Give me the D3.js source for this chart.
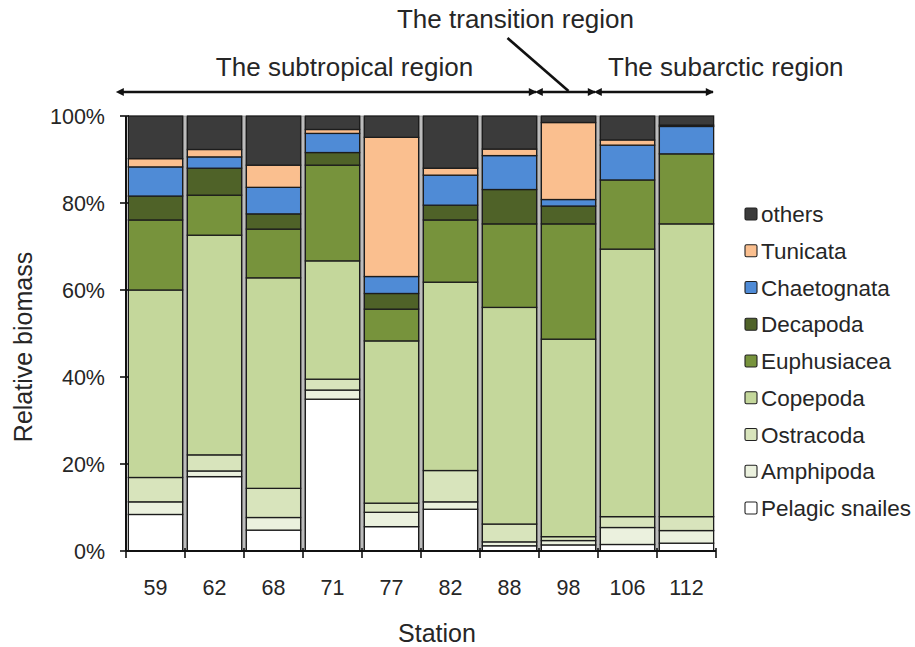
<!DOCTYPE html>
<html>
<head>
<meta charset="utf-8">
<script src="https://cdn.jsdelivr.net/npm/d3@7"></script>
<style>
  html, body { margin: 0; padding: 0; background: #fff; }
  svg { display: block; font-family: "Liberation Sans", Arial, sans-serif; }
</style>
</head>
<body>
<svg id="chart" width="915" height="647"></svg>
<script>
// stations along the transect
const stations = ["59", "62", "68", "71", "77", "82", "88", "98", "106", "112"];

// groups, bottom of stack first
const groups = ["Pelagic snailes", "Amphipoda", "Ostracoda", "Copepoda", "Euphusiacea",
                "Decapoda", "Chaetognata", "Tunicata", "others"];

// relative biomass (%) per station
const pelagicSnailes = [8.4, 17.1, 4.8, 34.9, 5.6, 9.6, 1.2, 1.4, 1.5, 1.8];
const amphipoda      = [2.9, 1.3, 2.9, 2.1, 3.3, 1.7, 0.9, 1.0, 3.9, 2.9];
const ostracoda      = [5.6, 3.7, 6.7, 2.5, 2.1, 7.2, 4.1, 0.9, 2.5, 3.2];
const copepoda       = [43.1, 50.5, 48.4, 27.2, 37.3, 43.3, 49.8, 45.4, 61.5, 67.3];
const euphusiacea    = [16.1, 9.2, 11.2, 22.0, 7.3, 14.3, 19.2, 26.5, 15.9, 16.1];
const decapoda       = [5.5, 6.2, 3.5, 2.9, 3.6, 3.4, 7.9, 4.1, 0, 0];
const chaetognata    = [6.7, 2.6, 6.1, 4.4, 3.9, 6.9, 7.8, 1.5, 8.0, 6.3];
const tunicata       = [1.9, 1.7, 5.1, 0.9, 32.0, 1.6, 1.5, 17.7, 1.2, 0.3];
const others         = [9.8, 7.7, 11.3, 3.1, 4.9, 12.0, 7.6, 1.5, 5.5, 2.1];

const yTicks = [0, 20, 40, 60, 80, 100];

// regions: [label, first station index, last station index + 1]
const regions = [
  ["The subtropical region", 0, 7],
  ["The transition region", 7, 8],
  ["The subarctic region", 8, 10]
];

const colors = {
  "Pelagic snailes": "#ffffff",
  "Amphipoda": "#ebf1de",
  "Ostracoda": "#d8e4bc",
  "Copepoda": "#c4d79b",
  "Euphusiacea": "#77933c",
  "Decapoda": "#4f6228",
  "Chaetognata": "#4f8bd6",
  "Tunicata": "#fabf8f",
  "others": "#3b3b3b"
};

const series = [pelagicSnailes, amphipoda, ostracoda, copepoda, euphusiacea,
                decapoda, chaetognata, tunicata, others];

const table = stations.map((s, i) => {
  const row = { station: s };
  groups.forEach((g, j) => (row[g] = series[j][i]));
  return row;
});

const svg = d3.select("#chart");
const textColor = "#262626";

const margin = { left: 126, right: 199, top: 116, bottom: 96 };
const W = 915, H = 647;

const x = d3.scaleBand()
  .domain(stations)
  .range([margin.left, W - margin.right])
  .paddingInner(0.08)
  .paddingOuter(0.04);

const y = d3.scaleLinear().domain([0, 100]).range([H - margin.bottom, margin.top]);

const stacked = d3.stack().keys(groups)(table);

const boundary = (k) => x.range()[0] + k * x.step();

// grey separators between bars
svg.append("g")
  .selectAll("rect")
  .data(d3.range(1, stations.length))
  .join("rect")
  .attr("x", (k) => boundary(k) - 1.6)
  .attr("y", y(100))
  .attr("width", 3.2)
  .attr("height", y(0) - y(100))
  .attr("fill", "#bcbcbc")
  .attr("stroke", "#777")
  .attr("stroke-width", 0.6);

// bars
svg.append("g")
  .selectAll("g")
  .data(stacked)
  .join("g")
  .attr("fill", (d) => colors[d.key])
  .selectAll("rect")
  .data((d) => d.filter((p) => p[1] - p[0] > 0))
  .join("rect")
  .attr("x", (d) => x(d.data.station))
  .attr("y", (d) => y(d[1]))
  .attr("width", x.bandwidth())
  .attr("height", (d) => y(d[0]) - y(d[1]))
  .attr("stroke", "#1c1c1c")
  .attr("stroke-width", 1.3);

// y axis
const yAxis = svg.append("g");
yAxis.append("line")
  .attr("x1", margin.left).attr("x2", margin.left)
  .attr("y1", y(100)).attr("y2", y(0))
  .attr("stroke", "#111").attr("stroke-width", 2);
yAxis.selectAll(".tick")
  .data(yTicks)
  .join("line")
  .attr("x1", margin.left - 6).attr("x2", margin.left + 3)
  .attr("y1", (d) => y(d)).attr("y2", (d) => y(d))
  .attr("stroke", "#111").attr("stroke-width", 1.6);
yAxis.selectAll("text")
  .data(yTicks)
  .join("text")
  .attr("x", margin.left - 21)
  .attr("y", (d) => y(d))
  .attr("dy", "0.36em")
  .attr("text-anchor", "end")
  .attr("font-size", 21.5)
  .attr("fill", textColor)
  .text((d) => d + "%");

// x axis
const xAxis = svg.append("g");
xAxis.append("line")
  .attr("x1", margin.left).attr("x2", W - margin.right)
  .attr("y1", y(0)).attr("y2", y(0))
  .attr("stroke", "#111").attr("stroke-width", 2);
xAxis.selectAll("line.tk")
  .data(d3.range(0, stations.length + 1))
  .join("line")
  .attr("class", "tk")
  .attr("x1", (k) => boundary(k)).attr("x2", (k) => boundary(k))
  .attr("y1", y(0) - 3).attr("y2", y(0) + 7)
  .attr("stroke", "#111").attr("stroke-width", 1.6);
xAxis.selectAll("text")
  .data(stations)
  .join("text")
  .attr("x", (d) => x(d) + x.bandwidth() / 2)
  .attr("y", 595)
  .attr("text-anchor", "middle")
  .attr("font-size", 21.5)
  .attr("fill", textColor)
  .text((d) => d);

// axis titles
svg.append("text")
  .attr("x", 437).attr("y", 642)
  .attr("text-anchor", "middle")
  .attr("font-size", 25)
  .attr("fill", textColor)
  .text("Station");

svg.append("text")
  .attr("transform", "translate(32,347) rotate(-90)")
  .attr("text-anchor", "middle")
  .attr("font-size", 25)
  .attr("fill", textColor)
  .text("Relative biomass");

// legend, top item = top of stack
const legendItems = groups.slice().reverse();
const legend = svg.append("g")
  .selectAll("g")
  .data(legendItems)
  .join("g")
  .attr("transform", (d, i) => `translate(745,${214 + i * 36.75})`);
legend.append("rect")
  .attr("x", 0).attr("y", -6)
  .attr("width", 12).attr("height", 12)
  .attr("rx", 1.5)
  .attr("fill", (d) => colors[d])
  .attr("stroke", "#222").attr("stroke-width", 1.1);
legend.append("text")
  .attr("x", 16).attr("y", 0)
  .attr("dy", "0.36em")
  .attr("font-size", 22.5)
  .attr("fill", textColor)
  .text((d) => d);

// region arrows
const defs = svg.append("defs");
["start", "end"].forEach((side) => {
  defs.append("marker")
    .attr("id", "arrow-" + side)
    .attr("viewBox", "0 0 10 10")
    .attr("refX", side === "end" ? 9 : 1)
    .attr("refY", 5)
    .attr("markerWidth", 10)
    .attr("markerHeight", 8)
    .attr("markerUnits", "userSpaceOnUse")
    .attr("orient", "auto-start-reverse")
    .append("path")
    .attr("d", "M0,0 L10,5 L0,10 Z")
    .attr("fill", "#111");
});

const arrowY = 92;
const arrows = svg.append("g");
regions.forEach(([label, a, b]) => {
  const x1 = (a === 0 ? boundary(a) - 3 : boundary(a) + 3);
  const x2 = boundary(b) - 3;
  arrows.append("line")
    .attr("x1", x1).attr("x2", x2)
    .attr("y1", arrowY).attr("y2", arrowY)
    .attr("stroke", "#111").attr("stroke-width", 2.6)
    .attr("marker-start", "url(#arrow-start)")
    .attr("marker-end", "url(#arrow-end)");
});

// region labels
const [sub, trans, arc] = regions;
svg.append("text")
  .attr("x", (boundary(sub[1]) + boundary(sub[2])) / 2 + 12)
  .attr("y", 76)
  .attr("text-anchor", "middle")
  .attr("font-size", 26)
  .attr("fill", textColor)
  .text(sub[0]);

const transMid = (boundary(trans[1]) + boundary(trans[2])) / 2;
svg.append("line")
  .attr("x1", transMid - 61).attr("y1", 38)
  .attr("x2", transMid).attr("y2", arrowY - 1)
  .attr("stroke", "#111").attr("stroke-width", 2.6);
svg.append("text")
  .attr("x", transMid - 53)
  .attr("y", 28)
  .attr("text-anchor", "middle")
  .attr("font-size", 26)
  .attr("fill", textColor)
  .text(trans[0]);

svg.append("text")
  .attr("x", boundary(arc[1]) + 10)
  .attr("y", 76)
  .attr("text-anchor", "start")
  .attr("font-size", 26)
  .attr("fill", textColor)
  .text(arc[0]);
</script>
</body>
</html>
